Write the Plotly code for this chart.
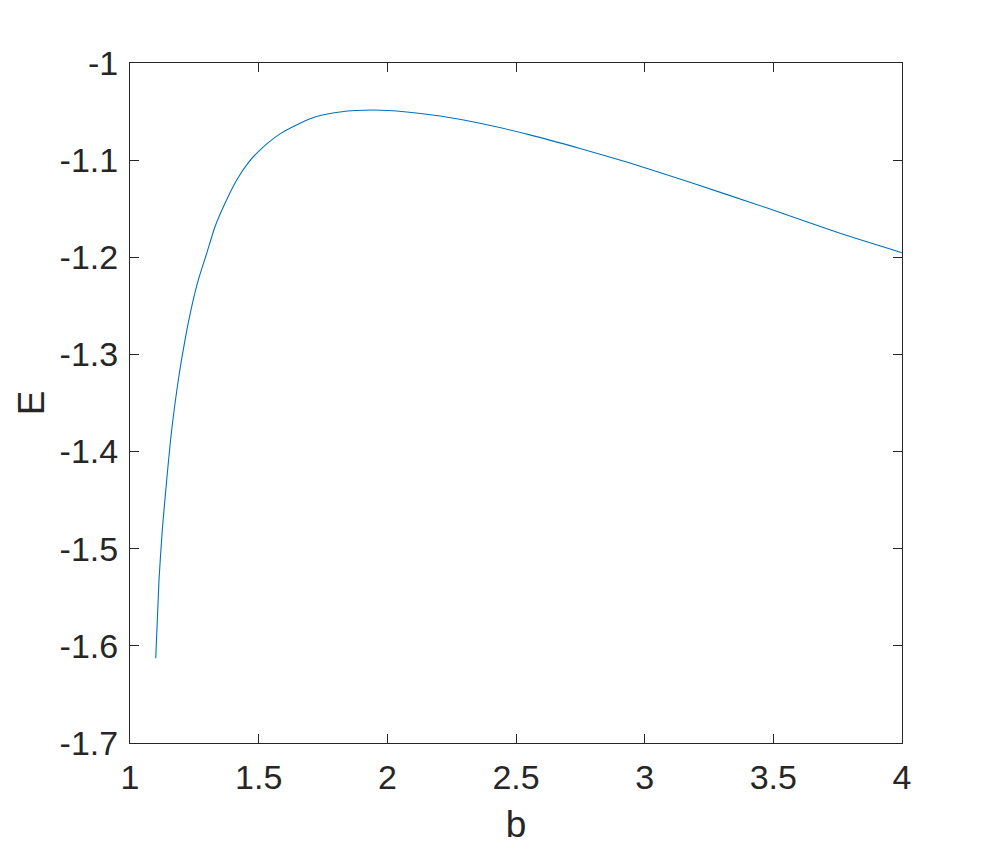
import plotly.graph_objects as go

b_vals = [1.100, 1.1127, 1.1255, 1.1426, 1.162, 1.1877, 1.2137, 1.2398, 1.2654, 1.2981,
          1.3303, 1.3692, 1.4146, 1.460, 1.505, 1.583, 1.661, 1.719, 1.816, 1.944, 2.076,
          2.205, 2.360, 2.554, 2.749, 2.943, 3.176, 3.468, 3.759, 4.0]
E_vals = [-1.6128, -1.5322, -1.4808, -1.4293, -1.3778, -1.3263, -1.2852, -1.2509, -1.2233, -1.1959,
          -1.1685, -1.1444, -1.1204, -1.1025, -1.0896, -1.073, -1.062, -1.0556, -1.0504, -1.0484, -1.0504,
          -1.0546, -1.062, -1.074, -1.088, -1.103, -1.1228, -1.1486, -1.1753, -1.1953]

x_ticks = [1, 1.5, 2, 2.5, 3, 3.5, 4]
x_tick_text = ["1", "1.5", "2", "2.5", "3", "3.5", "4"]
y_ticks = [-1.7, -1.6, -1.5, -1.4, -1.3, -1.2, -1.1, -1.0]
y_tick_text = ["-1.7", "-1.6", "-1.5", "-1.4", "-1.3", "-1.2", "-1.1", "-1"]

FONT = "Liberation Sans Narrow, Liberation Sans, Arial, sans-serif"

fig = go.Figure()
fig.add_trace(go.Scatter(x=b_vals, y=E_vals, mode="lines",
                         line=dict(color="#0072BD", width=1.1, shape="spline", smoothing=0.6),
                         showlegend=False, hoverinfo="skip"))

axis_common = dict(showline=True, linecolor="#262626", linewidth=1, mirror="ticks",
                   ticks="inside", ticklen=9, tickcolor="#262626", tickwidth=1,
                   showgrid=False, zeroline=False,
                   tickfont=dict(family=FONT, size=34, color="#262626"))

fig.update_layout(
    width=997, height=847,
    margin=dict(l=122, r=103, t=55, b=112),
    paper_bgcolor="white", plot_bgcolor="white",
    font=dict(family=FONT, color="#262626"),
    xaxis=dict(range=[1, 4], tickvals=x_ticks, ticktext=x_tick_text, ticklabelstandoff=4,
               title=dict(text="b", font=dict(size=37), standoff=16), **axis_common),
    yaxis=dict(range=[-1.7, -1.0], tickvals=y_ticks, ticktext=y_tick_text, ticklabelstandoff=4,
               title=dict(text="E", font=dict(size=37), standoff=3), **axis_common),
)

fig.write_html("out.html")
